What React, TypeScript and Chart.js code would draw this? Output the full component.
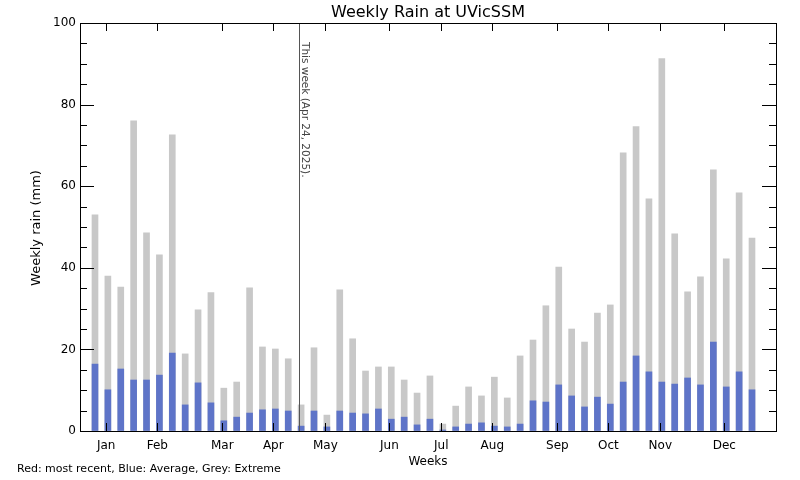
import { useEffect, useRef } from "react";
import { Chart, registerables } from "chart.js";

Chart.register(...registerables);

// ---- Data ----
const weekNumbers = [
  1, 2, 3, 4, 5, 6, 7, 8, 9, 10, 11, 12, 13, 14, 15, 16, 17, 18, 19, 20, 21, 22, 23, 24, 25, 26,
  27, 28, 29, 30, 31, 32, 33, 34, 35, 36, 37, 38, 39, 40, 41, 42, 43, 44, 45, 46, 47, 48, 49, 50, 51, 52,
];

const averageRain = [
  16.4, 10.1, 15.2, 12.5, 12.5, 13.7, 19.1, 6.4, 11.8, 6.9,
  2.5, 3.4, 4.4, 5.2, 5.4, 4.9, 1.2, 4.9, 1.0, 4.9,
  4.4, 4.2, 5.4, 2.9, 3.4, 1.5, 2.9, 0.25, 1.0, 1.7,
  2.0, 1.2, 1.0, 1.7, 7.4, 7.1, 11.3, 8.6, 5.9, 8.3,
  6.6, 12.0, 18.4, 14.5, 12.0, 11.5, 13.0, 11.3, 21.8, 10.8, 14.5, 10.1,
];

const extremeRain = [
  53.0, 38.0, 35.3, 76.0, 48.6, 43.2, 72.6, 18.9, 29.7, 33.9,
  10.5, 12.0, 35.1, 20.6, 20.1, 17.7, 6.4, 20.4, 3.9, 34.6,
  22.6, 14.7, 15.7, 15.7, 12.5, 9.3, 13.5, 1.7, 6.1, 10.8,
  8.6, 13.2, 8.1, 18.4, 22.3, 30.7, 40.2, 25.0, 21.8, 28.9,
  30.9, 68.2, 74.6, 56.9, 91.3, 48.3, 34.1, 37.8, 64.0, 42.2, 58.4, 47.3,
];

const monthLabels = ["Jan", "Feb", "Mar", "Apr", "May", "Jun", "Jul", "Aug", "Sep", "Oct", "Nov", "Dec"];
const monthTickWeeks = [1.87, 5.84, 10.88, 14.84, 18.88, 23.85, 27.88, 31.84, 36.89, 40.85, 44.88, 49.85];

const thisWeekPosition = 16.84;
const thisWeekLabel = "This week (Apr 24, 2025).";

const titleText = "Weekly Rain at UVicSSM";
const yAxisTitle = "Weekly rain (mm)";
const xAxisTitle = "Weeks";
const footerText = "Red: most recent, Blue: Average, Grey: Extreme";

const X_MIN = -0.164;
const X_MAX = 53.863;
const Y_MIN = 0;
const Y_MAX = 100;

const BLUE = "rgb(94,116,200)";
const GREY = "rgb(200,200,200)";
const FONT = "'DejaVu Sans', sans-serif";

const decorPlugin = {
  id: "decor",
  afterDraw(chart: any) {
    const { ctx, chartArea: a, scales } = chart;
    const xs = scales.x;
    const ys = scales.y;
    const L = Math.round(a.left);
    const R = Math.round(a.right);
    const T = Math.round(a.top);
    const B = Math.round(a.bottom);
    const line = (x1: number, y1: number, x2: number, y2: number) => {
      ctx.beginPath();
      ctx.moveTo(x1, y1);
      ctx.lineTo(x2, y2);
      ctx.stroke();
    };
    ctx.save();
    ctx.lineWidth = 1;

    // "This week" marker
    const lx = Math.round(xs.getPixelForValue(thisWeekPosition)) + 0.5;
    ctx.strokeStyle = "#555555";
    line(lx, T, lx, B);

    // frame
    ctx.strokeStyle = "#000000";
    ctx.strokeRect(L + 0.5, T + 0.5, R - L, B - T);

    // y ticks (inward, both sides)
    ys.ticks.forEach((t: any) => {
      const py = Math.round(ys.getPixelForValue(t.value)) + 0.5;
      const len = t.value % 20 === 0 ? 14 : 7;
      line(L, py, L + len, py);
      line(R - len, py, R + 1, py);
    });

    // x ticks (inward, bottom and top)
    monthTickWeeks.forEach((w) => {
      const px = Math.round(xs.getPixelForValue(w)) + 0.5;
      line(px, B, px, B - 8);
      line(px, T, px, T + 8);
    });

    // texts
    ctx.fillStyle = "#000000";
    ctx.textAlign = "center";
    ctx.textBaseline = "alphabetic";
    ctx.font = `16px ${FONT}`;
    ctx.fillText(titleText, (L + R) / 2, 17);

    ctx.font = `12px ${FONT}`;
    ctx.fillText(xAxisTitle, (L + R) / 2, 465);

    ctx.save();
    ctx.translate(40, 228);
    ctx.rotate(-Math.PI / 2);
    ctx.font = `13px ${FONT}`;
    ctx.fillText(yAxisTitle, 0, 0);
    ctx.restore();

    ctx.textAlign = "left";
    ctx.font = `11px ${FONT}`;
    ctx.fillText(footerText, 17, 472);

    ctx.save();
    ctx.translate(lx + 2.5, 42);
    ctx.rotate(Math.PI / 2);
    ctx.fillStyle = "#444444";
    ctx.textAlign = "left";
    ctx.textBaseline = "alphabetic";
    ctx.font = `10.5px ${FONT}`;
    ctx.fillText(thisWeekLabel, 0, 0);
    ctx.restore();

    ctx.restore();
  },
};

export default function App() {
  const canvasRef = useRef<HTMLCanvasElement | null>(null);

  useEffect(() => {
    const canvas = canvasRef.current;
    if (!canvas) return;
    const chart = new Chart(canvas, {
      type: "bar",
      data: {
        datasets: [
          {
            label: "Average",
            data: weekNumbers.map((w, i) => ({ x: w, y: averageRain[i] })),
            backgroundColor: BLUE,
            borderWidth: 0,
            barThickness: 6,
            grouped: false,
          } as any,
          {
            label: "Extreme",
            data: weekNumbers.map((w, i) => ({ x: w, y: extremeRain[i] })),
            backgroundColor: GREY,
            borderWidth: 0,
            barThickness: 6,
            grouped: false,
          } as any,
        ],
      },
      options: {
        responsive: false,
        animation: false,
        devicePixelRatio: 1,
        layout: { padding: { top: 23, right: 24, left: 0, bottom: 0 } },
        plugins: {
          legend: { display: false },
          tooltip: { enabled: false },
          title: { display: false },
        },
        scales: {
          x: {
            type: "linear",
            min: X_MIN,
            max: X_MAX,
            offset: false,
            grid: { display: true, drawOnChartArea: false, drawTicks: false },
            border: { display: false },
            afterBuildTicks: (scale: any) => {
              scale.ticks = monthTickWeeks.map((v) => ({ value: v }));
            },
            afterFit: (scale: any) => {
              scale.height = 49;
            },
            ticks: {
              autoSkip: false,
              maxRotation: 0,
              minRotation: 0,
              padding: 8,
              color: "#000000",
              font: { family: FONT, size: 12 },
              callback: (_v: any, i: number) => monthLabels[i],
            },
          },
          y: {
            type: "linear",
            min: Y_MIN,
            max: Y_MAX,
            grid: { display: true, drawOnChartArea: false, drawTicks: false },
            border: { display: false },
            afterFit: (scale: any) => {
              scale.width = 80;
            },
            ticks: {
              stepSize: 5,
              padding: 4,
              color: "#000000",
              font: { family: FONT, size: 12 },
              callback: (v: any) => (Number(v) % 20 === 0 ? String(v) : ""),
            },
          },
        },
      },
      plugins: [decorPlugin],
    });
    return () => chart.destroy();
  }, []);

  return (
    <div style={{ position: "fixed", left: 0, top: 0, width: 800, height: 480, background: "#ffffff" }}>
      <canvas ref={canvasRef} width={800} height={480} style={{ display: "block" }} />
    </div>
  );
}
